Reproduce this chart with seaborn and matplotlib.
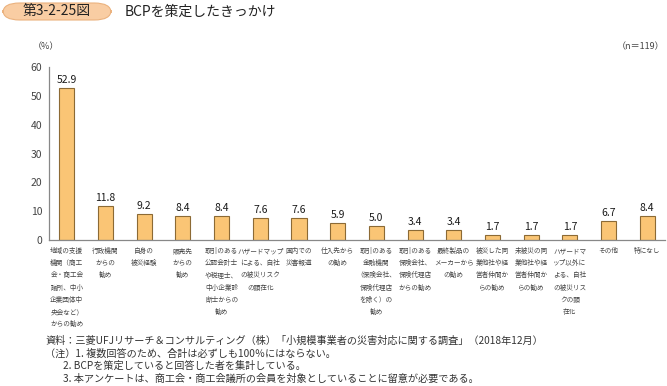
import matplotlib
matplotlib.use("Agg")
import matplotlib.pyplot as plt
from matplotlib.patches import FancyBboxPatch
from matplotlib.ticker import FixedLocator
import seaborn as sns
import pandas as pd

categories = [
    "地域の支援\n機関（商工\n会・商工会\n議所、中小\n企業団体中\n央会など）\nからの勧め",
    "行政機関\nからの\n勧め",
    "自身の\n被災経験",
    "販売先\nからの\n勧め",
    "取引のある\n公認会計士\nや税理士、\n中小企業診\n断士からの\n勧め",
    "ハザードマップ\nによる、自社\nの被災リスク\nの顕在化",
    "国内での\n災害報道",
    "仕入先から\nの勧め",
    "取引のある\n金融機関\n（保険会社、\n保険代理店\nを除く）の\n勧め",
    "取引のある\n保険会社、\n保険代理店\nからの勧め",
    "最終製品の\nメーカーから\nの勧め",
    "被災した同\n業他社や経\n営者仲間か\nらの勧め",
    "未被災の同\n業他社や経\n営者仲間か\nらの勧め",
    "ハザードマ\nップ以外に\nよる、自社\nの被災リス\nクの顕\n在化",
    "その他",
    "特になし",
]
values = [52.9, 11.8, 9.2, 8.4, 8.4, 7.6, 7.6, 5.9, 5.0, 3.4, 3.4, 1.7, 1.7, 1.7, 6.7, 8.4]
yticks = [0, 10, 20, 30, 40, 50, 60]

notes = [
    "資料：三菱UFJリサーチ＆コンサルティング（株）「小規模事業者の災害対応に関する調査」（2018年12月）",
    "（注）1. 複数回答のため、合計は必ずしも100％にはならない。",
    "2. BCPを策定していると回答した者を集計している。",
    "3. 本アンケートは、商工会・商工会議所の会員を対象としていることに留意が必要である。",
]

sns.set_style("white")
plt.rcParams["font.family"] = ["Noto Sans CJK JP", "DejaVu Sans"]

df = pd.DataFrame({"cat": range(len(values)), "val": values})

fig = plt.figure(figsize=(6.67, 3.86), dpi=100)
ax = fig.add_axes([0.0735, 0.378, 0.9235, 0.448])

sns.barplot(data=df, x="cat", y="val", ax=ax, color="#FAC575", width=0.39,
            edgecolor="#8C6A35", linewidth=0.8, saturation=1)

# value labels
for i, v in enumerate(values):
    ax.text(i, v + 1.0, f"{v:.1f}", ha="center", va="bottom", fontsize=7.5,
            color="#1a1a1a")

ax.set_xlim(-0.46, len(values) - 0.54)
ax.set_ylim(0, 60)
ax.set_yticks(yticks)
ax.set_yticklabels([str(t) for t in yticks], fontsize=7.5, color="#444444")
ax.set_xticks(range(len(values)))
ax.set_xticklabels(categories, fontsize=4.8, color="#444444", linespacing=1.7, va="top")
ax.tick_params(axis="x", which="major", length=0, pad=5)
ax.xaxis.set_minor_locator(FixedLocator([i + 0.5 for i in range(len(values) - 1)]))
ax.tick_params(axis="x", which="minor", length=3, color="#777777", width=0.8)
ax.tick_params(axis="y", length=3, color="#777777", width=0.8, pad=2)
ax.set_xlabel("")
ax.set_ylabel("")
for s in ["top", "right"]:
    ax.spines[s].set_visible(False)
for s in ["left", "bottom"]:
    ax.spines[s].set_color("#888888")
    ax.spines[s].set_linewidth(0.9)

# header
box = FancyBboxPatch((3 / 667, 1 - 20 / 386), 108 / 667, 17 / 386,
                     boxstyle="round,pad=0,rounding_size=0.025",
                     transform=fig.transFigure, facecolor="#F9CDA3",
                     edgecolor="#EBB27E", linewidth=0.8)
fig.patches.append(box)
fig.text(57 / 667, 1 - 11.5 / 386, "第3-2-25図", ha="center", va="center",
         fontsize=10, color="#222222")
fig.text(125 / 667, 1 - 11.5 / 386, "BCPを策定したきっかけ", ha="left", va="center",
         fontsize=10, color="#222222")

fig.text(33 / 667, 1 - 47 / 386, "（%）", ha="left", va="center", fontsize=6.5, color="#444444")
fig.text(664 / 667, 1 - 47 / 386, "（n＝119）", ha="right", va="center", fontsize=6.5,
         color="#444444")

# notes
note_x = [45, 45, 63, 63]
for k, (t, x) in enumerate(zip(notes, note_x)):
    fig.text(x / 667, 1 - (341 + k * 12.5) / 386, t, ha="left", va="center",
             fontsize=7.3, color="#333333")

fig.savefig("out.png", dpi=100)
